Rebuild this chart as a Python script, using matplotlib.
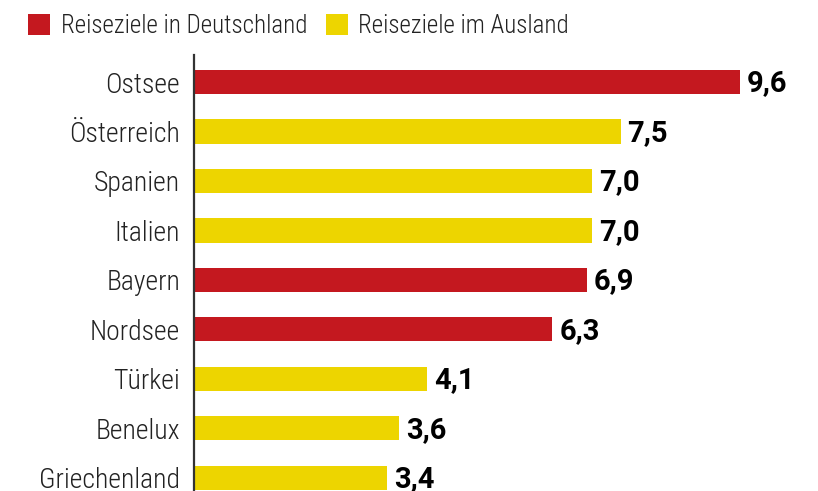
import matplotlib
matplotlib.use("Agg")
import matplotlib.pyplot as plt
from matplotlib.patches import Patch
from matplotlib import font_manager

categories = ["Ostsee", "Österreich", "Spanien", "Italien", "Bayern", "Nordsee", "Türkei", "Benelux", "Griechenland"]
values = [9.6, 7.5, 7.0, 7.0, 6.9, 6.3, 4.1, 3.6, 3.4]
groups = ["DE", "AUS", "AUS", "AUS", "DE", "DE", "AUS", "AUS", "AUS"]
group_labels = {"DE": "Reiseziele in Deutschland", "AUS": "Reiseziele im Ausland"}
colors = {"DE": "#C4181F", "AUS": "#EDD500"}

names = {f.name for f in font_manager.fontManager.ttflist}
fam = "Roboto Condensed" if "Roboto Condensed" in names else "Roboto"

W, H = 818, 491
fig = plt.figure(figsize=(W / 100, H / 100), dpi=100)
ax = fig.add_axes([194 / W, 0, (W - 194) / W, (H - 55) / H])

y = list(range(len(categories)))
ax.barh(y, values, height=0.49, color=[colors[g] for g in groups])
ax.set_xlim(0, (W - 194) / 56.9)
ax.set_ylim(8.27, -0.547)

for yi, v in zip(y, values):
    ax.text(v + 0.12, yi + 0.03, f"{v:.1f}".replace(".", ","), va="center", ha="left",
            fontsize=21, fontweight="bold", family="Roboto", color="black")

ax.set_yticks(y)
ax.set_yticklabels(categories, family=fam, fontsize=20, fontweight="light", color="#222222")
ax.tick_params(axis="y", length=0, pad=10)
ax.set_xticks([])
for s in ["top", "right", "bottom"]:
    ax.spines[s].set_visible(False)
ax.spines["left"].set_color("#333333")
ax.spines["left"].set_linewidth(1.6)

handles = [Patch(facecolor=colors[k], edgecolor="none", label=group_labels[k]) for k in ["DE", "AUS"]]
fig.legend(handles=handles, loc="upper left", bbox_to_anchor=(28 / W, 1 - 14 / H), ncol=2, frameon=False,
           borderpad=0, borderaxespad=0,
           prop={"family": fam, "size": 18, "weight": "light"}, handlelength=0.88, handleheight=0.88,
           handletextpad=0.44, columnspacing=0.72, labelcolor="#222222")

fig.savefig("out.png", dpi=100)
